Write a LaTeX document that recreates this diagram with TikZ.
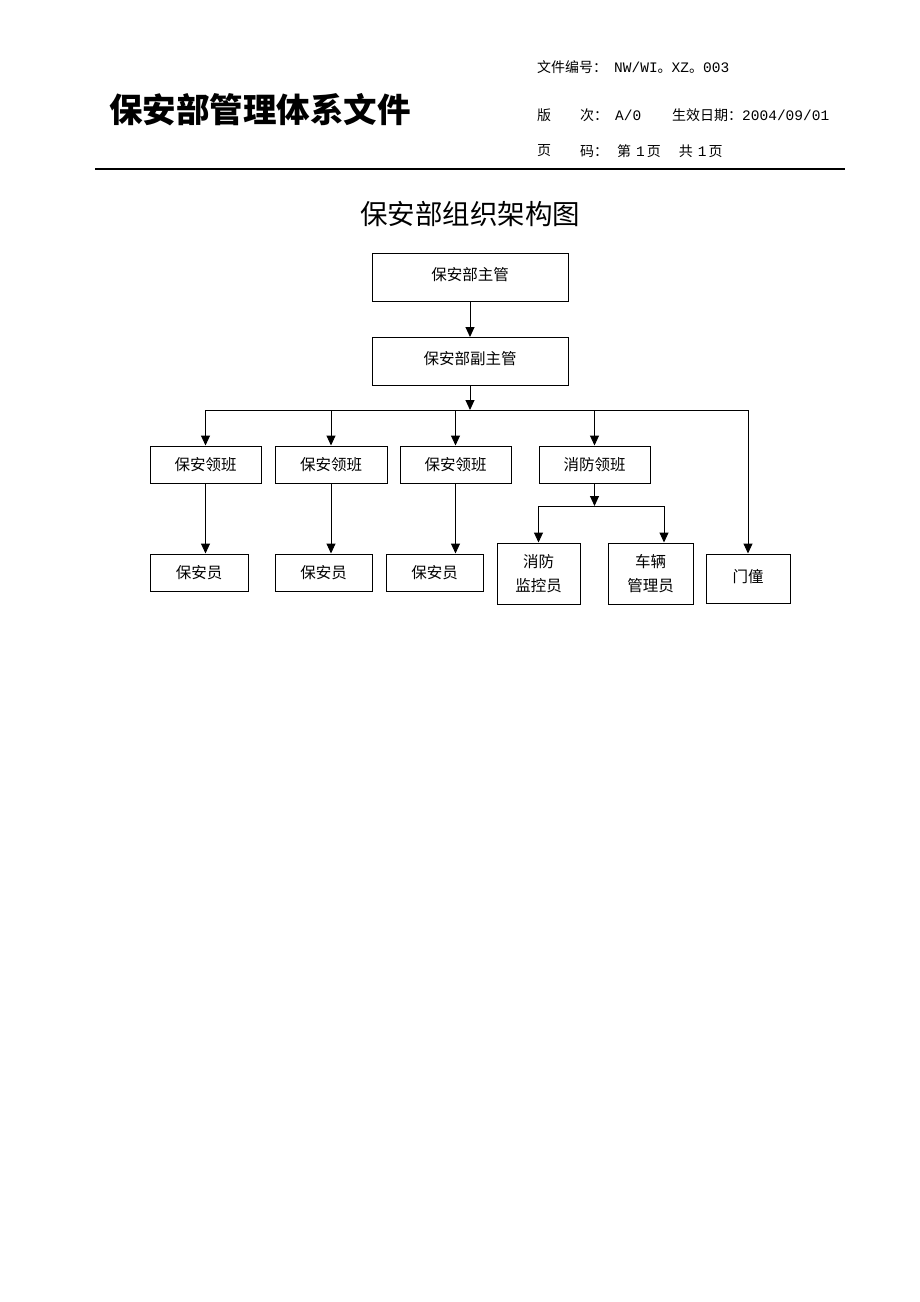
\documentclass[tikz,border=0pt]{standalone}
\usepackage{fontspec}
\usetikzlibrary{arrows.meta}
\newfontfamily\cjk{Noto Sans CJK SC}
\newfontfamily\mono{Liberation Mono}
\newcommand{\hd}{\cjk\fontsize{14}{16}\selectfont}
\newcommand{\hm}[1]{{\mono\fontsize{14.5}{16}\selectfont #1}}
\begin{document}
\begin{tikzpicture}[x=1pt,y=-1pt,
  box/.style={draw, line width=1pt, inner sep=0pt, align=center,
    font=\cjk\fontsize{15.5}{24}\selectfont},
  conn/.style={line width=1pt, -{Triangle[length=10pt,width=9pt]}},
  plain/.style={line width=1pt},
  hdr/.style={anchor=west, inner sep=0pt, font=\hd}]
\useasboundingbox[fill=white] (0,0) rectangle (920,1302);
% header
\node[inner sep=0pt, font=\cjk\bfseries\fontsize{33.5}{36}\selectfont] (title) at (260,110) {保安部管理体系文件};
\node[hdr] (h1) at (537,67) {文件编号：\hspace{7pt}\hm{NW/WI}。\hm{XZ}。\hm{003}};
\node[hdr] (h2a) at (537,115) {版};
\node[hdr] (h2b) at (580,115) {次：\hspace{7pt}\hm{A/0}};
\node[hdr] (h2c) at (672,115) {生效日期：\hm{2004/09/01}};
\node[hdr] (h3a) at (537,151) {页};
\node[hdr] (h3b) at (580,151) {码：\hspace{9pt}第\hspace{5pt}\hm{1}\hspace{2pt}页\hspace{18pt}共\hspace{5pt}\hm{1}\hspace{2pt}页};
\draw[line width=1.4pt] (95,169) -- (845,169);
\node[inner sep=0pt, font=\cjk\fontsize{27.5}{30}\selectfont] (ctitle) at (470,214) {保安部组织架构图};
% boxes
\node[box, minimum width=196pt, minimum height=48pt] (top) at (470,277) {\raisebox{6pt}{保安部主管}};
\node[box, minimum width=196pt, minimum height=48pt] (sub) at (470,361.5) {\raisebox{6.5pt}{保安部副主管}};
\node[box, minimum width=111pt, minimum height=37pt] (L1) at (205.5,464.5) {保安领班};
\node[box, minimum width=112pt, minimum height=37pt] (L2) at (331,464.5) {保安领班};
\node[box, minimum width=111pt, minimum height=37pt] (L3) at (455.5,464.5) {保安领班};
\node[box, minimum width=111pt, minimum height=37pt] (L4) at (594.5,464.5) {消防领班};
\node[box, minimum width=98pt, minimum height=37pt] (Y1) at (199,572.5) {保安员};
\node[box, minimum width=97pt, minimum height=37pt] (Y2) at (323.5,572.5) {保安员};
\node[box, minimum width=97pt, minimum height=37pt] (Y3) at (434.5,572.5) {保安员};
\node[box, minimum width=83pt, minimum height=61pt] (JK) at (538.5,573.5) {消防\\监控员};
\node[box, minimum width=85pt, minimum height=61pt] (CL) at (650.5,573.5) {车辆\\管理员};
\node[box, minimum width=84pt, minimum height=49pt] (MT) at (748,578.5) {\raisebox{5.5pt}{门僮}};
% connectors
\coordinate (bus) at (470,410);
\coordinate (busL) at (205.5,410);
\coordinate (busR) at (748,410);
\coordinate (fb) at (594.5,506);
\coordinate (fbL) at (538.5,506);
\coordinate (fbR) at (664,506);
\draw[conn] (top) -- (sub);
\draw[conn] (sub) -- (bus);
\draw[plain] (busL) -- (busR);
\draw[conn] (busL) -- (L1);
\draw[conn] (L2.north |- bus) -- (L2);
\draw[conn] (L3.north |- bus) -- (L3);
\draw[conn] (L4.north |- bus) -- (L4);
\draw[conn] (busR) -- (MT);
\draw[conn] (L1.south) -- (L1.south |- Y1.north);
\draw[conn] (L2.south) -- (L2.south |- Y2.north);
\draw[conn] (L3.south) -- (L3.south |- Y3.north);
\draw[conn] (L4) -- (fb);
\draw[plain] (fbL) -- (fbR);
\draw[conn] (fbL) -- (JK);
\draw[conn] (fbR) -- (fbR |- CL.north);
\end{tikzpicture}
\end{document}
